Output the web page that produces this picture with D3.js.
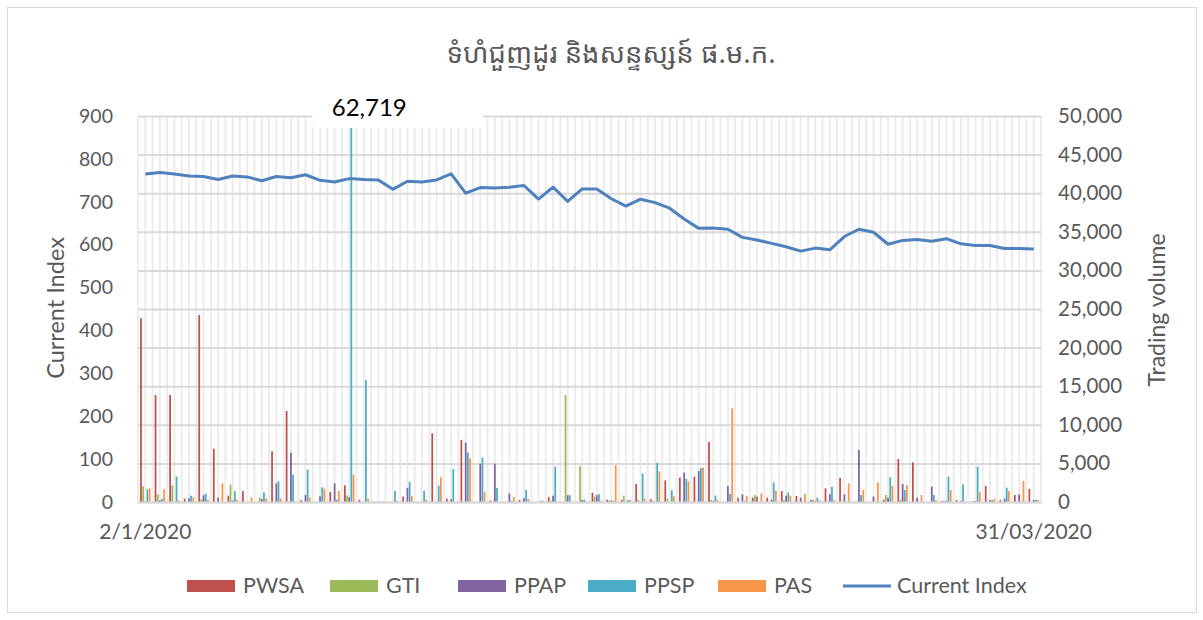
<!DOCTYPE html>
<html>
<head>
<meta charset="utf-8">
<script src="https://cdn.jsdelivr.net/npm/d3@7"></script>
<style>
    body { margin: 0; background: #fff; }
    text { font-family: Lato, "Open Sans", sans-serif; fill: #595959; }
</style>
</head>
<body>
<div class="chart"></div>
<script>
// Trading days shown on the category axis
const dates = [
    "2/1/2020", "03/01", "06/01", "08/01", "09/01", "10/01", "13/01", "14/01", "15/01", "16/01", "17/01",
    "20/01", "21/01", "22/01", "23/01", "24/01", "27/01", "28/01", "29/01", "30/01", "31/01",
    "03/02", "04/02", "05/02", "06/02", "07/02", "10/02", "11/02", "12/02", "13/02", "14/02",
    "17/02", "18/02", "19/02", "20/02", "21/02", "24/02", "25/02", "26/02", "27/02", "28/02",
    "02/03", "03/03", "04/03", "05/03", "06/03", "10/03", "11/03", "12/03", "13/03", "16/03",
    "17/03", "18/03", "19/03", "20/03", "23/03", "24/03", "25/03", "26/03", "27/03", "30/03", "31/03/2020"
];

// Trading volume per stock
const pwsa = [23800, 13860, 13860, 430, 24220, 6910, 820, 1430, 0, 6570, 11790, 260, 0, 1300, 2160, 300,
    50, 0, 700, 0, 8900, 430, 8050, 0, 200, 0, 260, 0, 640, 0, 0, 1200, 300, 280, 2350, 370, 2800, 3170,
    3280, 7780, 0, 560, 560, 560, 1420, 780, 260, 1770, 3150, 0, 0, 300, 5570, 5140, 0, 150, 260, 0, 2070,
    260, 900, 1680];
const gti = [2030, 990, 2160, 0, 350, 0, 2250, 0, 600, 0, 0, 0, 0, 0, 860, 0,
    0, 0, 0, 0, 0, 0, 0, 0, 0, 0, 0, 0, 150, 13860, 4640, 680, 200, 820, 260, 170, 430, 0,
    0, 260, 80, 0, 900, 0, 260, 0, 260, 100, 0, 100, 0, 900, 300, 0, 0, 150, 0, 120, 0,
    0, 0, 0];
const ppap = [50, 200, 0, 480, 860, 560, 170, 0, 390, 2420, 6390, 900, 730, 2420, 600, 0,
    0, 0, 1830, 0, 0, 350, 7690, 4960, 4960, 1100, 500, 0, 800, 880, 260, 880, 200, 0, 0, 0, 0, 3800,
    3990, 150, 2070, 990, 690, 300, 820, 560, 130, 990, 990, 6740, 690, 560, 2330, 560, 1980, 150, 120, 120, 260,
    430, 990, 260];
const ppsp = [1640, 430, 3280, 820, 1080, 0, 1380, 0, 1250, 2680, 3540, 4190, 1900, 300, 62719, 15800,
    0, 1420, 2610, 1440, 2110, 4260, 6420, 5770, 1830, 150, 1550, 170, 4560, 880, 300, 1000, 150, 260, 3690, 5070, 1530, 3000,
    4400, 840, 1040, 150, 0, 2550, 1250, 0, 560, 1980, 0, 900, 0, 3200, 1550, 0, 900, 3280, 2290, 4580, 260,
    1850, 0, 260];
const pas = [1770, 1640, 200, 600, 300, 2420, 350, 600, 475, 475, 0, 600, 1720, 1420, 3540, 430,
    100, 180, 780, 300, 3200, 0, 5640, 1320, 0, 650, 390, 170, 0, 0, 0, 170, 4770, 280, 430, 3970, 730, 2680,
    4470, 300, 12150, 820, 1120, 1460, 820, 1040, 200, 260, 2420, 1550, 2550, 2110, 2200, 900, 260, 1550, 0, 1300, 430,
    1420, 2720, 260];

// Current index (left axis)
const currentIndex = [765, 768, 765, 760, 759, 752, 760, 758, 749, 759, 756, 763, 750, 746, 754, 752,
    751, 729, 748, 746, 751, 765, 720, 733, 732, 734, 738, 706, 734, 701, 730, 730, 707, 690, 706, 698,
    685, 660, 638, 639, 636, 617, 611, 603, 595, 585, 592, 588, 619, 636, 629, 601, 610, 612, 608, 614,
    602, 598, 598, 591, 591, 590];

// Series names, colours and axis ticks
const seriesNames = ["PWSA", "GTI", "PPAP", "PPSP", "PAS"];
const seriesValues = [pwsa, gti, ppap, ppsp, pas];
const seriesColors = ["#C0504D", "#9BBB59", "#8064A2", "#4BACC6", "#F79646"];
const lineName = "Current Index";
const lineColor = "#4F81BD";
const indexTicks = [0, 100, 200, 300, 400, 500, 600, 700, 800, 900];
const volumeTicks = [0, 5000, 10000, 15000, 20000, 25000, 30000, 35000, 40000, 45000, 50000];
const labelled = ["2/1/2020", "31/03/2020"];
const bigLabel = "62,719";
const title = "ទំហំជួញដូរ និងសន្ទស្សន៍ ផ.ម.ក.";

// Size of the picture
let width = 1203;
let height = 620;

// Plot area
let plot = { left: 138, right: 1041, top: 116, bottom: 502 };

let svg = d3.select(".chart").append("svg")
    .attr("width", width)
    .attr("height", height);

// Outer chart border
svg.append("rect")
    .attr("x", 7.5).attr("y", 7.5)
    .attr("width", 1189).attr("height", 605)
    .attr("fill", "#fff")
    .attr("stroke", "#d9d9d9");

// Scales
const xScale = d3.scaleBand()
    .domain(dates)
    .range([plot.left, plot.right]);

const innerScale = d3.scaleBand()
    .domain(seriesNames)
    .range([-5.4, 5.4]);

const yIndex = d3.scaleLinear()
    .domain([0, 900])
    .range([plot.bottom, plot.top]);

const yVolume = d3.scaleLinear()
    .domain([0, 50000])
    .range([plot.bottom, plot.top]);

// Light vertical lines at every half category
let halfSteps = d3.range(dates.length * 2 + 1);
svg.append("g").selectAll("line").data(halfSteps).enter().append("line")
    .attr("x1", d => plot.left + d * xScale.step() / 2)
    .attr("x2", d => plot.left + d * xScale.step() / 2)
    .attr("y1", plot.top)
    .attr("y2", plot.bottom)
    .attr("stroke", "#ececec")
    .attr("stroke-width", 2);

// Horizontal gridlines follow the volume axis
svg.append("g")
    .attr("transform", `translate(${plot.left}, 0)`)
    .call(d3.axisLeft(yVolume).tickValues(volumeTicks).tickSize(-(plot.right - plot.left)).tickFormat(""))
    .call(g => g.select(".domain").remove())
    .call(g => g.selectAll("line").attr("stroke", "#d9d9d9").attr("stroke-width", 2));

// Clip bars that go above the top
svg.append("clipPath").attr("id", "plotClip")
    .append("rect")
    .attr("x", plot.left).attr("y", plot.top)
    .attr("width", plot.right - plot.left).attr("height", plot.bottom - plot.top);

// Clustered bars
let bars = svg.append("g").attr("clip-path", "url(#plotClip)");
seriesNames.forEach((name, s) => {
    bars.append("g").selectAll("rect").data(seriesValues[s]).enter().append("rect")
        .attr("x", (d, i) => xScale(dates[i]) + xScale.bandwidth() / 2 + innerScale(name) + 0.2)
        .attr("width", innerScale.bandwidth() - 0.4)
        .attr("y", d => yVolume(d))
        .attr("height", d => plot.bottom - yVolume(d))
        .attr("fill", seriesColors[s]);
});

// Category axis baseline and labels
svg.append("g")
    .attr("transform", `translate(0, ${plot.bottom})`)
    .call(d3.axisBottom(xScale).tickValues(labelled).tickSize(0).tickPadding(22))
    .call(g => g.select(".domain").attr("stroke", "#d9d9d9").attr("stroke-width", 2))
    .call(g => g.selectAll("text").style("font-size", "21px").attr("fill", "#595959"));

// Left axis labels
svg.append("g")
    .attr("transform", `translate(${plot.left - 25}, 0)`)
    .call(d3.axisLeft(yIndex).tickValues(indexTicks).tickSize(0).tickPadding(0))
    .call(g => g.select(".domain").remove())
    .call(g => g.selectAll("text").style("font-size", "19.5px").attr("fill", "#595959"));

// Right axis labels
svg.append("g")
    .attr("transform", `translate(${plot.right + 17}, 0)`)
    .call(d3.axisRight(yVolume).tickValues(volumeTicks).tickSize(0).tickPadding(0).tickFormat(d3.format(",")))
    .call(g => g.select(".domain").remove())
    .call(g => g.selectAll("text").style("font-size", "20.5px").attr("fill", "#595959"));

// Current index line
const line = d3.line()
    .x((d, i) => xScale(dates[i]) + xScale.bandwidth() / 2)
    .y(d => yIndex(d));

svg.append("path")
    .datum(currentIndex)
    .attr("d", line)
    .attr("fill", "none")
    .attr("stroke", lineColor)
    .attr("stroke-width", 3)
    .attr("stroke-linejoin", "round");

// Data label for the bar that goes off the top
let bigIndex = ppsp.indexOf(62719);
let bigX = xScale(dates[bigIndex]) + xScale.bandwidth() / 2 + innerScale("PPSP");
svg.append("rect")
    .attr("x", bigX - 38).attr("y", 88)
    .attr("width", 171).attr("height", 40)
    .attr("fill", "#fff");
svg.append("text")
    .attr("x", bigX + 19).attr("y", 116)
    .attr("text-anchor", "middle")
    .style("font-size", "24px")
    .style("fill", "#000")
    .text(bigLabel);

// Title
svg.append("text")
    .attr("x", 611).attr("y", 63)
    .attr("text-anchor", "middle")
    .style("font-size", "27.5px")
    .style("font-family", "'Noto Sans Khmer', 'Khmer OS', 'DejaVu Sans', sans-serif")
    .text(title);

// Axis titles
svg.append("text")
    .attr("transform", "translate(64, 308) rotate(-90)")
    .attr("text-anchor", "middle")
    .style("font-size", "23.5px")
    .text("Current Index");

svg.append("text")
    .attr("transform", "translate(1165, 310) rotate(-90)")
    .attr("text-anchor", "middle")
    .style("font-size", "23px")
    .text("Trading volume");

// Legend
const legendX = [187, 330, 458, 588, 718, 843];
let legend = svg.append("g");
seriesNames.forEach((name, s) => {
    legend.append("rect")
        .attr("x", legendX[s]).attr("y", 580)
        .attr("width", 48).attr("height", 12)
        .attr("fill", seriesColors[s]);
    legend.append("text")
        .attr("x", legendX[s] + 56).attr("y", 593)
        .style("font-size", "21.5px")
        .text(name);
});
legend.append("line")
    .attr("x1", legendX[5]).attr("x2", legendX[5] + 48)
    .attr("y1", 586).attr("y2", 586)
    .attr("stroke", lineColor)
    .attr("stroke-width", 3);
legend.append("text")
    .attr("x", legendX[5] + 54).attr("y", 593)
    .style("font-size", "21.5px")
    .text(lineName);
</script>
</body>
</html>
